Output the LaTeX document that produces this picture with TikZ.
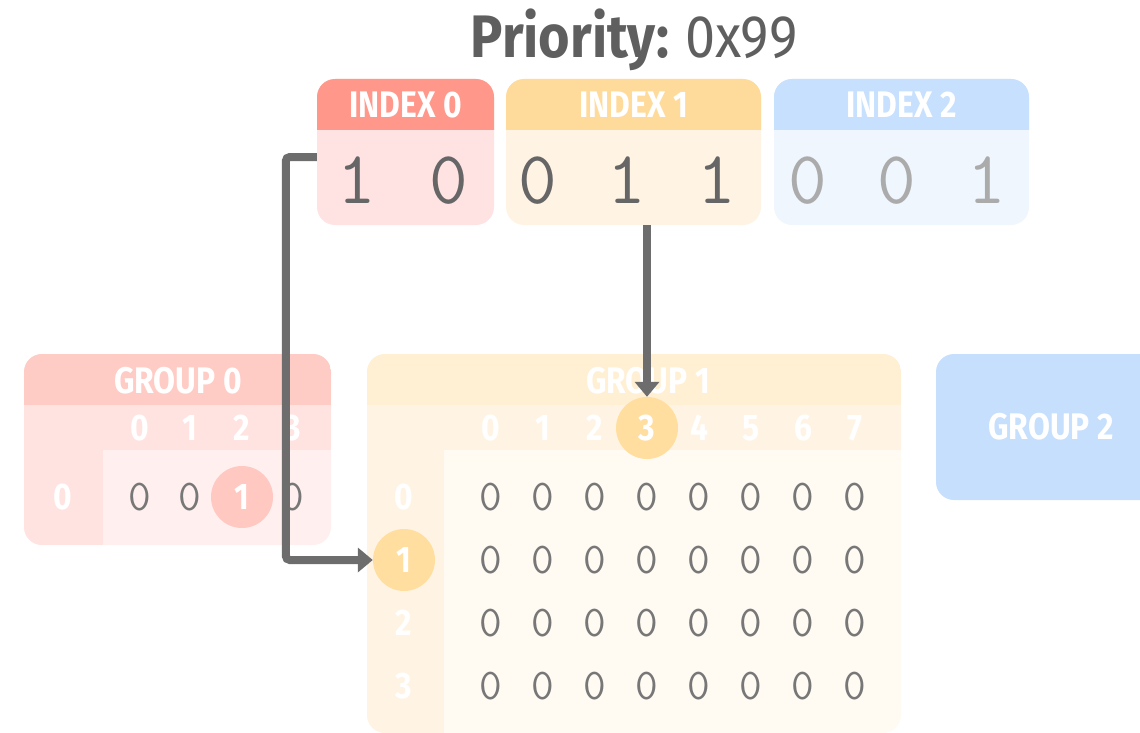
\documentclass[tikz,border=0pt]{standalone}
\usepackage{fontspec}
\setmainfont{Fira Sans}
\usetikzlibrary{arrows.meta}

\definecolor{titlegrey}{HTML}{5F5F5F}
\definecolor{bitgrey}{HTML}{666666}
\definecolor{bitlight}{HTML}{ABABAB}
\definecolor{cellgrey}{HTML}{777777}
\definecolor{arrowgrey}{HTML}{6D6D6D}
\definecolor{head0}{HTML}{FF978A}
\definecolor{body0}{HTML}{FFE3E3}
\definecolor{head1}{HTML}{FFDB9B}
\definecolor{body1}{HTML}{FFF4E4}
\definecolor{head2}{HTML}{C6E0FD}
\definecolor{body2}{HTML}{EFF6FE}
\definecolor{grphead0}{HTML}{FFCBC5}
\definecolor{grpside0}{HTML}{FFE3E0}
\definecolor{grpbody0}{HTML}{FFEFEE}
\definecolor{grphit0}{HTML}{FFC8C1}
\definecolor{grphead1}{HTML}{FFEFD3}
\definecolor{grpside1}{HTML}{FFF4E3}
\definecolor{grpbody1}{HTML}{FFFAF2}
\definecolor{grphit1}{HTML}{FFDE9F}
\definecolor{grphead2}{HTML}{C5DFFD}

\newcommand{\narrow}[1]{\scalebox{0.86}[1]{#1}}

\begin{document}
\begin{tikzpicture}[x=1pt,y=-1pt,
    hdr/.style={text=white,font=\fontsize{37}{40}\selectfont\bfseries},
    bit/.style={anchor=base,font=\fontsize{75}{80}\selectfont\ttfamily},
    cell/.style={text=cellgrey,font=\fontsize{44}{46}\selectfont\ttfamily},
    lbl/.style={text=white,font=\fontsize{37}{40}\selectfont\bfseries},
    hit/.style={circle,minimum size=62pt,inner sep=0pt,text=white,font=\fontsize{37}{40}\selectfont\bfseries},
    arrow/.style={draw=arrowgrey,line width=8pt,rounded corners=4pt,-{Triangle[width=24pt,length=15pt]}}]
  \useasboundingbox (0,0) rectangle (1140,733);
  \clip (0,0) rectangle (1140,733);

  % title
  \node[anchor=base,text=titlegrey,font=\fontsize{60}{63}\selectfont] (title) at (634,58)
    {\scalebox{0.9}[1]{\bfseries Priority:} \scalebox{0.9}[1]{0x99}};

  % index boxes
  \node[fill=body0,rounded corners=18pt,minimum width=177pt,minimum height=146pt] (idx0) at (405.5,152) {};
  \begin{scope}
    \clip (317,79) rectangle (494,130);
    \fill[head0,rounded corners=18pt] (317,79) rectangle (494,225);
  \end{scope}
  \node[hdr] (idx0head) at (405.5,105) {\narrow{INDEX 0}};
  \node[bit,text=bitgrey] (b00) at (357,203) {1};
  \node[bit,text=bitgrey] (b01) at (449,203) {0};

  \node[fill=body1,rounded corners=18pt,minimum width=255pt,minimum height=146pt] (idx1) at (633.5,152) {};
  \begin{scope}
    \clip (506,79) rectangle (761,130);
    \fill[head1,rounded corners=18pt] (506,79) rectangle (761,225);
  \end{scope}
  \node[hdr] (idx1head) at (633.5,105) {\narrow{INDEX 1}};
  \node[bit,text=bitgrey] (b10) at (538,203) {0};
  \node[bit,text=bitgrey] (b11) at (627,203) {1};
  \node[bit,text=bitgrey] (b12) at (717,203) {1};

  \node[fill=body2,rounded corners=18pt,minimum width=255pt,minimum height=146pt] (idx2) at (901.5,152) {};
  \begin{scope}
    \clip (774,79) rectangle (1029,130);
    \fill[head2,rounded corners=18pt] (774,79) rectangle (1029,225);
  \end{scope}
  \node[hdr] (idx2head) at (901.5,105) {\narrow{INDEX 2}};
  \node[bit,text=bitlight] (b20) at (808,203) {0};
  \node[bit,text=bitlight] (b21) at (897,203) {0};
  \node[bit,text=bitlight] (b22) at (987,203) {1};

  % group 0
  \node[fill=grpbody0,rounded corners=18pt,minimum width=307pt,minimum height=191pt] (grp0) at (177.5,449.5) {};
  \begin{scope}
    \clip[rounded corners=18pt] (24,354) rectangle (331,545);
    \fill[grphead0] (24,354) rectangle (331,405);
    \fill[grpside0] (24,405) rectangle (331,450);
    \fill[grpside0] (24,450) rectangle (103,545);
  \end{scope}
  \node[hdr] (grp0head) at (178,381) {\narrow{GROUP 0}};
  \foreach \c/\x in {0/140,1/190,2/242,3/293}
    \node[lbl] (g0c\c) at (\x,428) {\narrow{\c}};
  \node[lbl] (g0r0) at (63,497) {\narrow{0}};
  \node[cell] (g000) at (140,497) {0};
  \node[cell] (g001) at (190,497) {0};
  \node[hit,fill=grphit0] (g002) at (242,497) {\narrow{1}};
  \node[cell] (g003) at (293,497) {0};

  % group 1
  \node[fill=grpbody1,rounded corners=18pt,minimum width=534pt,minimum height=379pt] (grp1) at (634,543.5) {};
  \begin{scope}
    \clip[rounded corners=18pt] (367,354) rectangle (901,733);
    \fill[grphead1] (367,354) rectangle (901,405);
    \fill[grpside1] (367,405) rectangle (901,450);
    \fill[grpside1] (367,450) rectangle (444,733);
  \end{scope}
  \node[hdr] (grp1head) at (648,381) {\narrow{GROUP 1}};
  \foreach \c in {0,1,2,4,5,6,7}
    \node[lbl] (g1c\c) at ({491+52*\c},428) {\narrow{\c}};
  \node[hit,fill=grphit1] (g1c3) at (647,428) {\narrow{3}};
  \foreach \r in {0,2,3}
    \node[lbl] (g1r\r) at (404,{497+63*\r}) {\narrow{\r}};
  \node[hit,fill=grphit1] (g1r1) at (404,560) {\narrow{1}};
  \foreach \r in {0,...,3}
    \foreach \c in {0,...,7}
      \node[cell] (g1\r\c) at ({491+52*\c},{497+63*\r}) {0};

  % group 2
  \node[fill=grphead2,rounded corners=18pt,minimum width=230pt,minimum height=146pt,
        text=white,font=\fontsize{37}{40}\selectfont\bfseries] (grp2) at (1051,427) {\narrow{GROUP 2}};

  % lookups
  \draw[arrow] ([yshift=-5pt]idx0.west) -- ++(-31,0) |- (g1r1.west);
  \draw[arrow] (g1c3 |- idx1.south) -- (g1c3.north);
\end{tikzpicture}
\end{document}
